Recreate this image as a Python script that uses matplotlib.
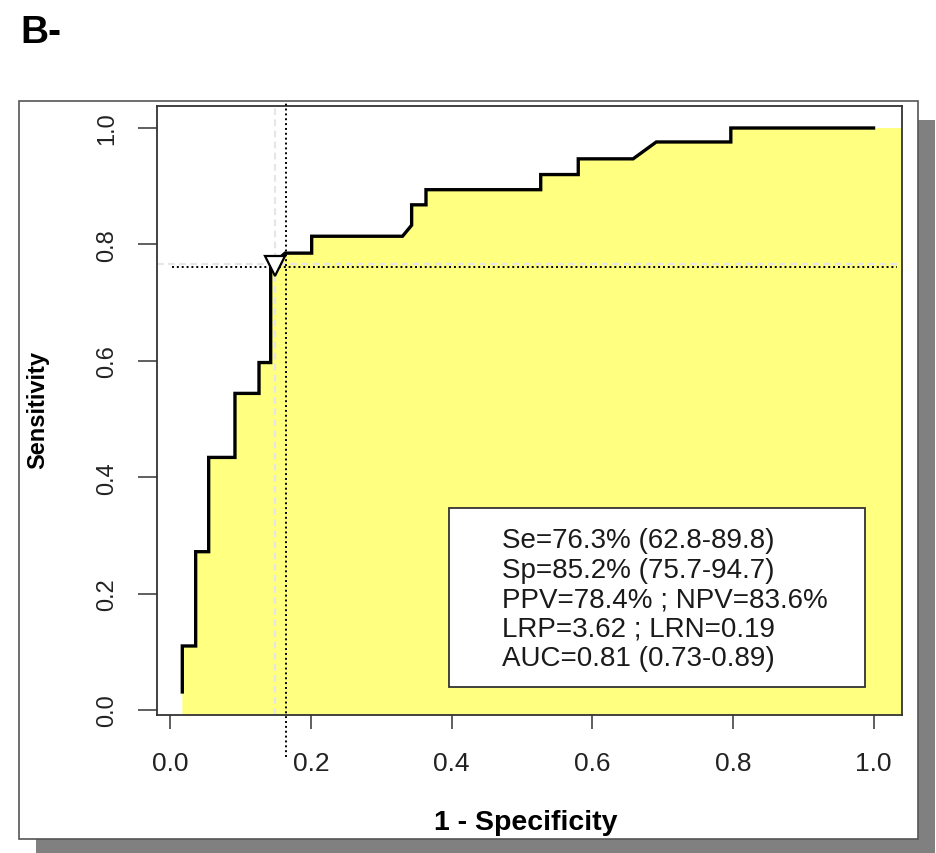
import matplotlib
matplotlib.use("Agg")
import matplotlib.pyplot as plt
from matplotlib.patches import Rectangle

# ROC curve vertices (1 - specificity, sensitivity)
fpr = [0.0168, 0.0168, 0.0358, 0.0358, 0.0543, 0.0543, 0.0917, 0.0917,
       0.1259, 0.1259, 0.1425, 0.1425, 0.1630, 0.2008, 0.2008, 0.3300,
       0.3430, 0.3430, 0.3634, 0.3634, 0.5266, 0.5266, 0.5800, 0.5800,
       0.6580, 0.6910, 0.7970, 0.7970, 1.0000]
tpr = [0.031, 0.110, 0.110, 0.272, 0.272, 0.434, 0.434, 0.544,
       0.544, 0.597, 0.597, 0.763, 0.785, 0.785, 0.814, 0.814,
       0.833, 0.868, 0.868, 0.894, 0.894, 0.920, 0.920, 0.947,
       0.947, 0.976, 0.976, 1.000, 1.000]

# Optimal cut-off statistics
se_pct = 76.3
sp_pct = 85.2
cut_lines_x = [0.1487, 0.165]   # grey dashed, black dotted
cut_lines_y = [0.7655, 0.761]

stats_lines = [
    "Se=76.3% (62.8-89.8)",
    "Sp=85.2% (75.7-94.7)",
    "PPV=78.4% ; NPV=83.6%",
    "LRP=3.62 ; LRN=0.19",
    "AUC=0.81 (0.73-0.89)",
]
tick_vals = [0.0, 0.2, 0.4, 0.6, 0.8, 1.0]
tick_labels = ["0.0", "0.2", "0.4", "0.6", "0.8", "1.0"]

W, H = 936, 854
plt.rcParams["font.family"] = ["Liberation Sans", "DejaVu Sans"]
fig = plt.figure(figsize=(W / 100, H / 100), dpi=100)
fig.patch.set_facecolor("white")

# Panel frame with drop shadow
fig.add_artist(Rectangle((36 / W, 1 - 854 / H), (935 - 36) / W, (854 - 121) / H,
                         transform=fig.transFigure, facecolor="#808080",
                         edgecolor="none", zorder=0))
fig.add_artist(Rectangle((19 / W, 1 - 840 / H), (918 - 19) / W, (840 - 102) / H,
                         transform=fig.transFigure, facecolor="white",
                         edgecolor="#555555", linewidth=1.2, zorder=0.5))

fig.text(20 / W, 1 - 33 / H, "B-", fontsize=28, fontweight="bold",
         ha="left", va="center")

ax = fig.add_axes([157 / W, 1 - 716 / H, (902 - 157) / W, (716 - 107) / H])
ax.set_zorder(1)
ax.set_facecolor("white")
ax.set_xlim(-0.0192, 1.0405)
ax.set_ylim(-0.0086, 1.0378)

# Area under the curve
fill_x = fpr + [1.2]
fill_y = tpr + [1.0]
ax.fill_between(fill_x, fill_y, -0.5, color="#FFFF80", linewidth=0, zorder=1)

# Reference lines at the cut-off
ax.axvline(cut_lines_x[0], color="#e6e6e6", lw=1.6, ls=(0, (3, 2)), zorder=2)
ax.axhline(cut_lines_y[0], color="#e6e6e6", lw=1.6, ls=(0, (3, 2)), zorder=2)
ax.plot([cut_lines_x[1], cut_lines_x[1]], [-0.081, 1.046], color="black",
        lw=1.4, ls=(0, (1, 1.5)), zorder=3, clip_on=False)
ax.plot([0.002, 1.034], [cut_lines_y[1], cut_lines_y[1]], color="black",
        lw=1.4, ls=(0, (1, 1.5)), zorder=3)

# ROC curve with the optimal cut-off marker
ax.plot(fpr, tpr, color="black", lw=2.4, zorder=4, solid_joinstyle="miter")
ax.plot([1 - sp_pct / 100], [se_pct / 100], marker="v", markersize=14,
        markerfacecolor="white", markeredgecolor="black", markeredgewidth=1.6,
        zorder=5)

# Statistics box
box = Rectangle(((449 - 157) / (902 - 157), (716 - 688) / (716 - 107)),
                (865 - 449) / (902 - 157), (688 - 509) / (716 - 107),
                transform=ax.transAxes, facecolor="white", edgecolor="#333333",
                linewidth=1.3, zorder=6)
ax.add_patch(box)
for i, line in enumerate(stats_lines):
    ypix = 541 + i * 29.6
    ax.text((502 - 157) / (902 - 157), (716 - ypix) / (716 - 107), line,
            transform=ax.transAxes, fontsize=20, ha="left", va="center",
            color="#1a1a1a", zorder=7)

ax.set_xticks(tick_vals)
ax.set_xticklabels(tick_labels, fontsize=19, color="#222222")
ax.set_yticks(tick_vals)
ax.set_yticklabels(tick_labels, fontsize=17, color="#222222",
                   rotation=90, va="center")
ax.tick_params(axis="x", length=10, width=1.2, color="#444444", pad=16)
ax.tick_params(axis="y", length=14, width=1.2, color="#444444", pad=14)
for s in ax.spines.values():
    s.set_color("#333333")
    s.set_linewidth(1.3)

fig.text(526 / W, 1 - 823 / H, "1 - Specificity", fontsize=20.5,
         fontweight="bold", ha="center", va="center")
fig.text(38 / W, 1 - 410 / H, "Sensitivity", fontsize=17, fontweight="bold",
         ha="center", va="center", rotation=90)

fig.savefig("out.png", dpi=100)
